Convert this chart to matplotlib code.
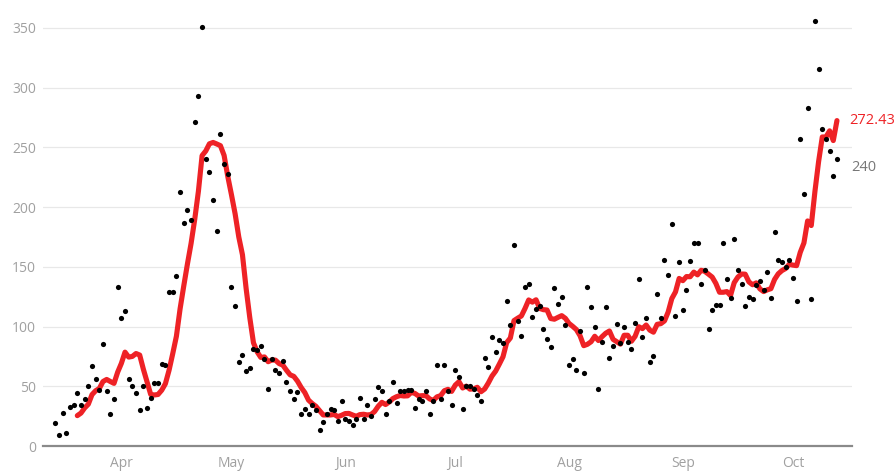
import numpy as np
import pandas as pd
import matplotlib
matplotlib.use("Agg")
import matplotlib.pyplot as plt
import matplotlib.dates as mdates

start_date = "2020-03-14"
daily_values = [
    19, 9, 28, 11, 33, 34, 44, 34, 39, 50,
    67, 56, 47, 85, 46, 27, 39, 133, 107, 113,
    56, 50, 44, 30, 50, 32, 40, 53, 53, 69,
    68, 129, 129, 142, 213, 187, 198, 189, 271, 293,
    351, 240, 229, 206, 180, 261, 236, 228, 133, 117,
    70, 76, 63, 65, 81, 80, 84, 73, 48, 73,
    64, 61, 71, 54, 46, 39, 45, 27, 31, 27,
    34, 30, 13, 20, 27, 31, 30, 21, 38, 23,
    21, 18, 23, 40, 23, 34, 25, 39, 49, 46,
    27, 38, 54, 36, 46, 46, 47, 47, 32, 39,
    38, 46, 27, 38, 68, 39, 68, 46, 34, 64,
    58, 31, 50, 50, 48, 43, 38, 74, 66, 91,
    79, 89, 86, 121, 101, 168, 105, 92, 133, 136,
    108, 115, 117, 98, 90, 83, 132, 119, 125, 101,
    68, 73, 64, 96, 61, 133, 116, 100, 48, 87,
    116, 74, 84, 102, 86, 100, 87, 81, 103, 140,
    91, 107, 70, 75, 127, 107, 156, 143, 186, 109,
    154, 114, 131, 155, 170, 170, 136, 147, 98, 114,
    118, 118, 170, 140, 124, 173, 147, 136, 117, 125,
    123, 135, 138, 131, 146, 124, 179, 156, 154, 150,
    156, 141, 121, 257, 211, 283, 123, 356, 316, 265,
    257, 247, 226, 240,
]
y_ticks = [0, 50, 100, 150, 200, 250, 300, 350]
month_ticks = ["2020-04-01", "2020-05-01", "2020-06-01", "2020-07-01",
               "2020-08-01", "2020-09-01", "2020-10-01"]
month_labels = ["Apr", "May", "Jun", "Jul", "Aug", "Sep", "Oct"]

dates = pd.date_range(start_date, periods=len(daily_values), freq="D")
series = pd.Series(daily_values, index=dates, dtype=float)
avg7 = series.rolling(7).mean()

plt.rcParams['font.family'] = ['Open Sans', 'DejaVu Sans']

fig = plt.figure(figsize=(8.96, 4.72), dpi=100)
ax = fig.add_axes([43/896, 26/472, (852-43)/896, (446-16)/472])

red = "#ee2226"
ax.plot(avg7.index, avg7.values, color=red, lw=3.7, solid_joinstyle="round",
        solid_capstyle="round", zorder=3)
ax.scatter(series.index, series.values, s=14, color="black", zorder=4,
           linewidths=0)

x0 = mdates.date2num(dates[0])
ax.set_xlim(x0 - 3.35, x0 + 217.1)
ax.set_ylim(0, 360)

ax.set_yticks(y_ticks)
ax.set_yticklabels([str(v) for v in y_ticks])
ax.set_xticks([mdates.date2num(pd.Timestamp(d)) for d in month_ticks])
ax.set_xticklabels(month_labels)

for s in ["top", "right", "left"]:
    ax.spines[s].set_visible(False)
ax.spines["bottom"].set_color("#8a8a8a")
ax.spines["bottom"].set_linewidth(1.6)
ax.spines["bottom"].set_zorder(5)

ax.grid(axis="y", color="#e8e8e8", lw=0.9)
ax.grid(axis="x", visible=False)
ax.set_axisbelow(True)
ax.tick_params(axis="both", length=0, labelcolor="#a0a0a0", labelsize=10)
ax.tick_params(axis="y", pad=5)
ax.tick_params(axis="x", pad=7)
for lab in ax.get_yticklabels():
    lab.set_horizontalalignment("right")

last_date = series.index[-1]
ax.annotate(f"{avg7.iloc[-1]:.2f}", xy=(last_date, avg7.iloc[-1]),
            xytext=(9, 0), textcoords="offset points", color=red,
            fontsize=10.5, va="center", ha="left", annotation_clip=False)
ax.annotate(f"{series.iloc[-1]:.0f}", xy=(last_date, series.iloc[-1]),
            xytext=(10, -6), textcoords="offset points", color="#777777",
            fontsize=10.5, va="center", ha="left", annotation_clip=False)

fig.savefig("out.png", dpi=100)
